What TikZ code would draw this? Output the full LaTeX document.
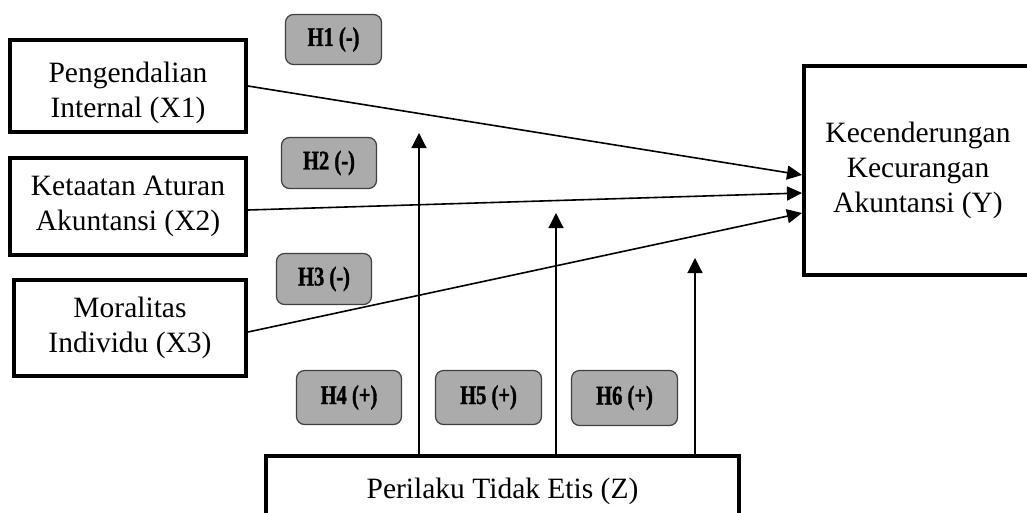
\documentclass[tikz,border=0pt]{standalone}
\usepackage{fontspec}
\setmainfont{Liberation Serif}
\newfontfamily\hypfont[FakeStretch=0.76,FakeBold=1.2]{Liberation Serif}
\usetikzlibrary{arrows.meta,calc}
\definecolor{hypgray}{RGB}{171,171,171}
\definecolor{hypedge}{RGB}{64,64,64}
\begin{document}
\begin{tikzpicture}[x=1pt,y=-1pt,
  varbox/.style={draw, line width=4pt, align=center, inner sep=0pt,
    font=\fontsize{29.5}{35}\selectfont},
  hyp/.style={draw=hypedge, line width=1.2pt, fill=hypgray, rounded corners=8pt,
    inner sep=0pt, minimum width=95pt, minimum height=50pt,
    font=\hypfont\bfseries\fontsize{27}{30}\selectfont},
  link/.style={line width=1.6pt, -{Triangle[length=15pt,width=14pt]}},
  modlink/.style={line width=1.2pt, -{Triangle[length=15pt,width=15pt]}}]
\useasboundingbox (0,0) rectangle (1027,512);
% variable boxes
\node[varbox, minimum width=236pt, minimum height=92pt] (x1) at (128,86) {\rule{0pt}{34pt}Pengendalian\\Internal (X1)};
\node[varbox, minimum width=236pt, minimum height=97pt] (x2) at (128,206.5) {Ketaatan Aturan\\Akuntansi (X2)};
\node[varbox, minimum width=232pt, minimum height=96pt] (x3) at (130,328) {Moralitas\\Individu (X3)};
\node[varbox, minimum width=228pt, minimum height=209pt] (y) at (918,170.5) {Kecenderungan\\Kecurangan\\Akuntansi (Y)};
\node[varbox, minimum width=473pt, minimum height=70pt] (z) at (502.5,491) {Perilaku Tidak Etis (Z)};
% hypothesis labels
\node[hyp, minimum width=96pt] (h1) at (333.5,39.5) {H1 (-)};
\node[hyp, minimum height=51pt] (h2) at (329,163) {H2 (-)};
\node[hyp, minimum height=51pt] (h3) at (324,279) {H3 (-)};
\node[hyp, minimum width=105pt, minimum height=54pt] (h4) at (349,397.5) {H4 (+)};
\node[hyp, minimum width=106pt, minimum height=54pt] (h5) at (488.5,397.5) {H5 (+)};
\node[hyp, minimum width=106pt, minimum height=55pt] (h6) at (624.5,398) {H6 (+)};
% direct effects
\draw[link] (x1.east) -- ($(y.west)+(0,4.5)$);
\draw[link] ($(x2.east)+(0,3.5)$) -- ($(y.west)+(0,22.5)$);
\draw[link] ($(x3.east)+(0,4)$) -- ($(y.west)+(0,42.5)$);
% moderating effects
\coordinate (t4) at (419,133);
\coordinate (t5) at (556,213);
\coordinate (t6) at (695,258);
\draw[modlink] (z.north -| t4) -- (t4);
\draw[modlink] (z.north -| t5) -- (t5);
\draw[modlink] (z.north -| t6) -- (t6);
\end{tikzpicture}
\end{document}
